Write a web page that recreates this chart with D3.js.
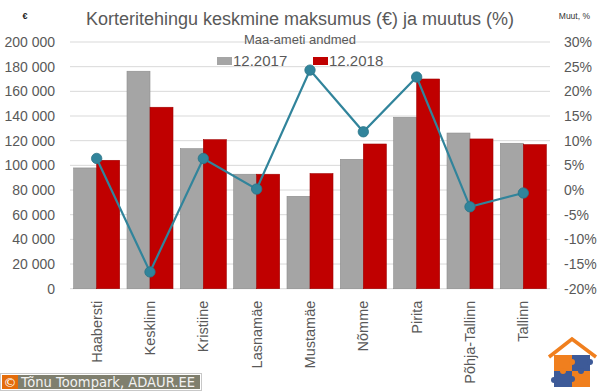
<!DOCTYPE html>
<html>
<head>
<meta charset="utf-8">
<script src="https://cdn.jsdelivr.net/npm/d3@7"></script>
<style>
  html, body { margin: 0; padding: 0; background: #fff; }
  svg { display: block; font-family: "Liberation Sans", Arial, sans-serif; }
</style>
</head>
<body>
<svg id="chart" width="600" height="392"></svg>
<script>
const categories = ["Haabersti", "Kesklinn", "Kristiine", "Lasnamäe", "Mustamäe", "Nõmme", "Pirita", "Põhja-Tallinn", "Tallinn"];
const seriesNames = ["12.2017", "12.2018"];
const values2017 = [97900, 176300, 113500, 92800, 74900, 104900, 139000, 126200, 117900];
const values2018 = [104100, 147100, 120800, 92800, 93300, 117300, 170000, 121400, 116800];
const changePct = [6.4, -16.6, 6.4, 0.2, 24.3, 11.8, 22.9, -3.4, -0.6];
const leftTicks = [0, 20000, 40000, 60000, 80000, 100000, 120000, 140000, 160000, 180000, 200000];
const rightTicks = [-20, -15, -10, -5, 0, 5, 10, 15, 20, 25, 30];

const svg = d3.select("#chart");
const plot = { left: 70, right: 550, top: 42, bottom: 288.7 };
const colors = { "12.2017": "#A5A5A5", "12.2018": "#C00000" };
const strokes = { "12.2017": "#8C8C8C", "12.2018": "#A00000" };
const lineColor = "#31849B";
const textColor = "#595959";

const x0 = d3.scaleBand().domain(categories).range([plot.left, plot.right])
  .paddingInner(0.1375).paddingOuter(0.06875);
const x1 = d3.scaleBand().domain(seriesNames).range([0, x0.bandwidth()]);
const xc = d3.scaleBand().domain(categories).range([plot.left, plot.right]);
const yL = d3.scaleLinear().domain([0, 200000]).range([plot.bottom, plot.top]);
const yR = d3.scaleLinear().domain([-20, 30]).range([plot.bottom, plot.top]);

// gridlines
svg.append("g").selectAll("line").data(leftTicks).join("line")
  .attr("x1", plot.left).attr("x2", plot.right)
  .attr("y1", d => yL(d)).attr("y2", d => yL(d))
  .attr("stroke", "#D9D9D9").attr("stroke-width", 1);

// left axis
const fmt = d => d3.format(",")(d).replace(/,/g, "\u00a0");
const axL = d3.axisLeft(yL).tickValues(leftTicks).tickFormat(fmt).tickSize(0).tickPadding(0);
const gL = svg.append("g").attr("transform", "translate(55,0)").call(axL);
gL.select(".domain").remove();
gL.selectAll("text").attr("fill", textColor).style("font-size", "14px")
  .style("font-family", "'Liberation Sans', Arial, sans-serif");

// right axis
const axR = d3.axisRight(yR).tickValues(rightTicks).tickFormat(d => d + "%").tickSize(0).tickPadding(0);
const gR = svg.append("g").attr("transform", "translate(564,0)").call(axR);
gR.select(".domain").remove();
gR.selectAll("text").attr("fill", textColor).style("font-size", "14px")
  .style("font-family", "'Liberation Sans', Arial, sans-serif");

// bars
const rows = categories.map((c, i) => ({ cat: c, vals: [
  { s: "12.2017", v: values2017[i] }, { s: "12.2018", v: values2018[i] }] }));
svg.append("g").selectAll("g").data(rows).join("g")
  .attr("transform", d => `translate(${x0(d.cat)},0)`)
  .selectAll("rect").data(d => d.vals).join("rect")
  .attr("x", d => x1(d.s)).attr("width", x1.bandwidth())
  .attr("y", d => yL(d.v)).attr("height", d => yL(0) - yL(d.v))
  .attr("fill", d => colors[d.s]).attr("stroke", d => strokes[d.s]).attr("stroke-width", 0.6);

// x labels
const axX = d3.axisBottom(xc).tickSize(0).tickPadding(0);
const gX = svg.append("g").attr("transform", `translate(0,${plot.bottom})`).call(axX);
gX.select(".domain").remove();
gX.selectAll("text")
  .attr("transform", "rotate(-90)")
  .attr("x", -12).attr("y", 0).attr("dy", "0.35em")
  .style("text-anchor", "end")
  .attr("fill", textColor).style("font-size", "14.5px")
  .style("font-family", "'Liberation Sans', Arial, sans-serif");

// line
const pts = categories.map((c, i) => [xc(c) + xc.bandwidth() / 2, yR(changePct[i])]);
svg.append("path").datum(pts).attr("d", d3.line())
  .attr("fill", "none").attr("stroke", lineColor).attr("stroke-width", 2.2);
svg.append("g").selectAll("circle").data(pts).join("circle")
  .attr("cx", d => d[0]).attr("cy", d => d[1]).attr("r", 5.2)
  .attr("fill", lineColor).attr("stroke", "#2A7487").attr("stroke-width", 0.8);

// title
svg.append("text").attr("x", 300).attr("y", 25).attr("text-anchor", "middle")
  .attr("fill", textColor).style("font-size", "18px")
  .text("Korteritehingu keskmine maksumus (€) ja muutus (%)");
svg.append("text").attr("x", 300).attr("y", 44).attr("text-anchor", "middle")
  .attr("fill", textColor).style("font-size", "13px")
  .text("Maa-ameti andmed");

// legend
const legend = [{ s: "12.2017", x: 217 }, { s: "12.2018", x: 313 }];
const lg = svg.append("g").selectAll("g").data(legend).join("g")
  .attr("transform", d => `translate(${d.x},0)`);
lg.append("rect").attr("x", 0).attr("y", 57).attr("width", 15).attr("height", 8)
  .attr("fill", d => colors[d.s]);
lg.append("text").attr("x", 16).attr("y", 66).attr("fill", textColor)
  .style("font-size", "15px").text(d => d.s);

// axis unit labels
svg.append("text").attr("x", 25).attr("y", 19).attr("text-anchor", "middle")
  .attr("fill", "#222").style("font-size", "9px").style("font-weight", "bold").text("€");
svg.append("text").attr("x", 590).attr("y", 19).attr("text-anchor", "end")
  .attr("fill", "#333").style("font-size", "8.5px").text("Muut, %");

// copyright box
const cb = svg.append("g");
cb.append("rect").attr("x", 0.5).attr("y", 373.5).attr("width", 201).attr("height", 17)
  .attr("fill", "#fff").attr("stroke", "#C8C8C8");
cb.append("rect").attr("x", 2).attr("y", 375).attr("width", 198).attr("height", 14).attr("fill", "#7F7F6E");
cb.append("rect").attr("x", 2).attr("y", 375).attr("width", 16).attr("height", 14).attr("fill", "#E46C0A");
cb.append("text").attr("x", 10).attr("y", 387).attr("text-anchor", "middle")
  .attr("fill", "#fff").style("font-size", "13px").style("font-family", "'DejaVu Sans', sans-serif").text("©");
cb.append("text").attr("x", 21).attr("y", 386.5).attr("fill", "#F2F2F2")
  .style("font-size", "13.2px").style("font-family", "'DejaVu Sans', sans-serif")
  .attr("textLength", 174).attr("lengthAdjust", "spacingAndGlyphs")
  .text("Tõnu Toompark, ADAUR.EE");

// logo
const lgo = svg.append("g");
lgo.append("path").attr("d", "M549,357 L572,339 L596,357")
  .attr("fill", "none").attr("stroke", "#F07F1E").attr("stroke-width", 3.5).attr("stroke-linejoin", "miter");
lgo.append("rect").attr("x", 554).attr("y", 355).attr("width", 18).attr("height", 16).attr("fill", "#F07F1E");
lgo.append("rect").attr("x", 572).attr("y", 355).attr("width", 18).attr("height", 16).attr("fill", "#3D5A98");
lgo.append("rect").attr("x", 554).attr("y", 371).attr("width", 18).attr("height", 16).attr("fill", "#3D5A98");
lgo.append("rect").attr("x", 572).attr("y", 371).attr("width", 18).attr("height", 16).attr("fill", "#F07F1E");
lgo.append("circle").attr("cx", 572).attr("cy", 362).attr("r", 3).attr("fill", "#F07F1E");
lgo.append("circle").attr("cx", 563).attr("cy", 371).attr("r", 3).attr("fill", "#F07F1E");
lgo.append("circle").attr("cx", 581).attr("cy", 371).attr("r", 3).attr("fill", "#3D5A98");
lgo.append("circle").attr("cx", 572).attr("cy", 379).attr("r", 3).attr("fill", "#3D5A98");
lgo.append("circle").attr("cx", 590).attr("cy", 362).attr("r", 3).attr("fill", "#3D5A98");
lgo.append("circle").attr("cx", 554).attr("cy", 380).attr("r", 3).attr("fill", "#3D5A98");
</script>
</body>
</html>
